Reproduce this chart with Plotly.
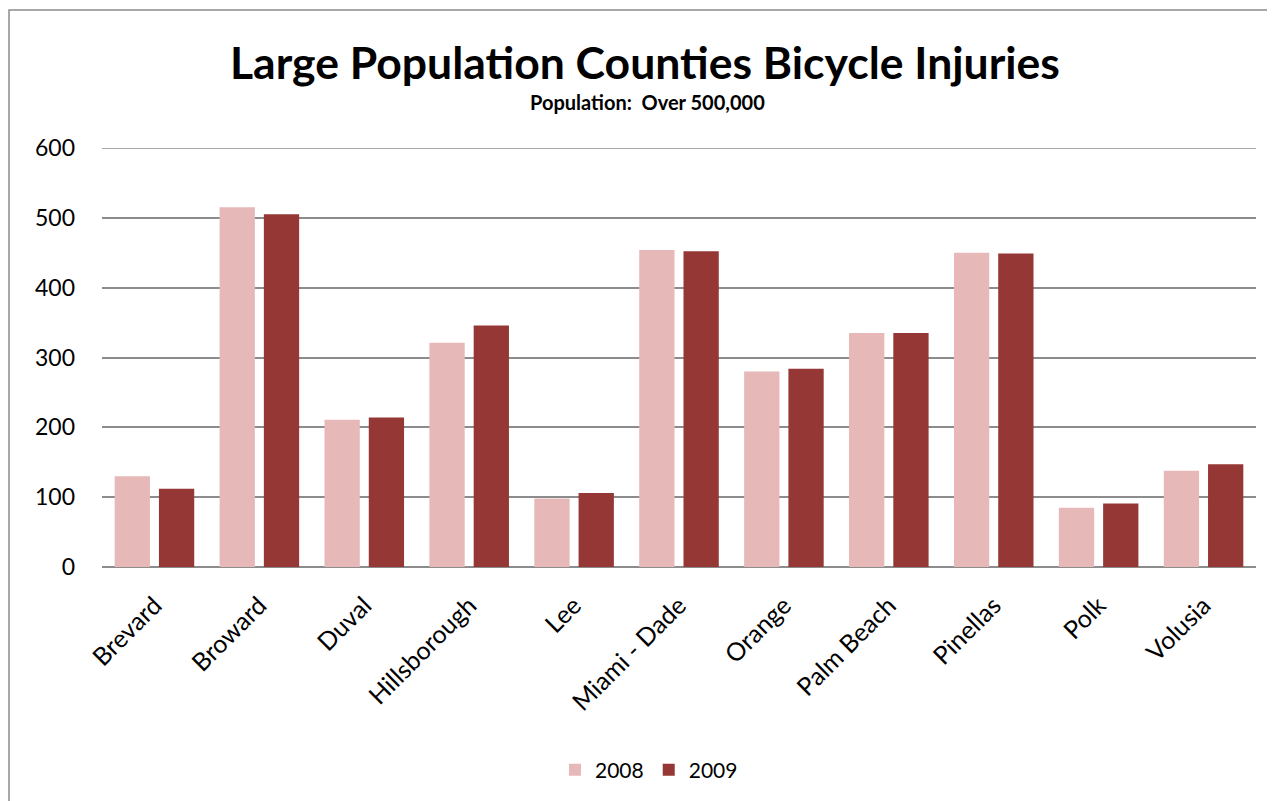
import plotly.graph_objects as go

counties = ["Brevard", "Broward", "Duval", "Hillsborough", "Lee", "Miami - Dade",
            "Orange", "Palm Beach", "Pinellas", "Polk", "Volusia"]
y2008 = [130, 515, 211, 321, 98, 454, 280, 335, 450, 85, 138]
y2009 = [112, 505, 214, 346, 106, 452, 284, 335, 449, 91, 147]
y_ticks = [0, 100, 200, 300, 400, 500, 600]

OFF = 8  # page body margin
W, H = 1275 - OFF, 801 - OFF
# plot area in screen coords: x 102..1256, y 148..567
L = 102 - OFF
R = W - (1256 - OFF)
T = 148 - OFF
B = H - (567 - OFF)
pw, ph = W - L - R, H - T - B

def px_x(x):  # screen x -> paper
    return (x - OFF - L) / pw

def px_y(y):  # screen y -> paper
    return (H - B - (y - OFF)) / ph

FONT = "Lato, Calibri, Carlito, sans-serif"
GRID = "#8C8C8C"

fig = go.Figure()
fig.add_trace(go.Bar(x=counties, y=y2008, name="2008", marker_color="#E6B8B7",
                     marker_line_width=0))
fig.add_trace(go.Bar(x=counties, y=y2009, name="2009", marker_color="#953735",
                     marker_line_width=0))

fig.update_layout(
    width=W, height=H,
    margin=dict(l=L, r=R, t=T, b=B, autoexpand=False),
    paper_bgcolor="white", plot_bgcolor="white",
    barmode="group", bargap=0.156, bargroupgap=0.203,
    font=dict(family=FONT, size=22, color="black"),
    showlegend=True,
    legend=dict(orientation="h", x=0.474, xanchor="center", y=px_y(770), yanchor="middle",
                font=dict(size=21, family=FONT), itemwidth=30, traceorder="normal"),
    xaxis=dict(tickangle=-45, showgrid=False, showline=False, ticks="",
               ticklabelstandoff=18, tickfont=dict(size=25, family=FONT)),
    yaxis=dict(range=[0, 600], tickvals=y_ticks, showgrid=True, gridcolor=GRID,
               gridwidth=1.5, zeroline=True, zerolinecolor=GRID, zerolinewidth=1.5,
               ticks="", ticklabelstandoff=26, tickfont=dict(size=23, family=FONT)),
    annotations=[
        dict(text="<b>Large Population Counties Bicycle Injuries</b>", xref="paper", yref="paper",
             x=px_x(645), y=px_y(62), xanchor="center", yanchor="middle", showarrow=False,
             font=dict(size=44.5, family=FONT, color="black")),
        dict(text="<b>Population:  Over 500,000</b>", xref="paper", yref="paper",
             x=px_x(647), y=px_y(102), xanchor="center", yanchor="middle", showarrow=False,
             font=dict(size=20, family=FONT, color="black")),
    ],
    shapes=[
        dict(type="rect", xref="paper", yref="paper", x0=px_x(OFF + 1), x1=px_x(1300),
             y0=px_y(830), y1=px_y(10), line=dict(color=GRID, width=1.5),
             fillcolor="rgba(0,0,0,0)", layer="below"),
        dict(type="line", xref="paper", yref="y", x0=0, x1=1, y0=y_ticks[-1], y1=y_ticks[-1],
             line=dict(color=GRID, width=1.5), layer="below"),
    ],
)

fig.write_html("out.html")
